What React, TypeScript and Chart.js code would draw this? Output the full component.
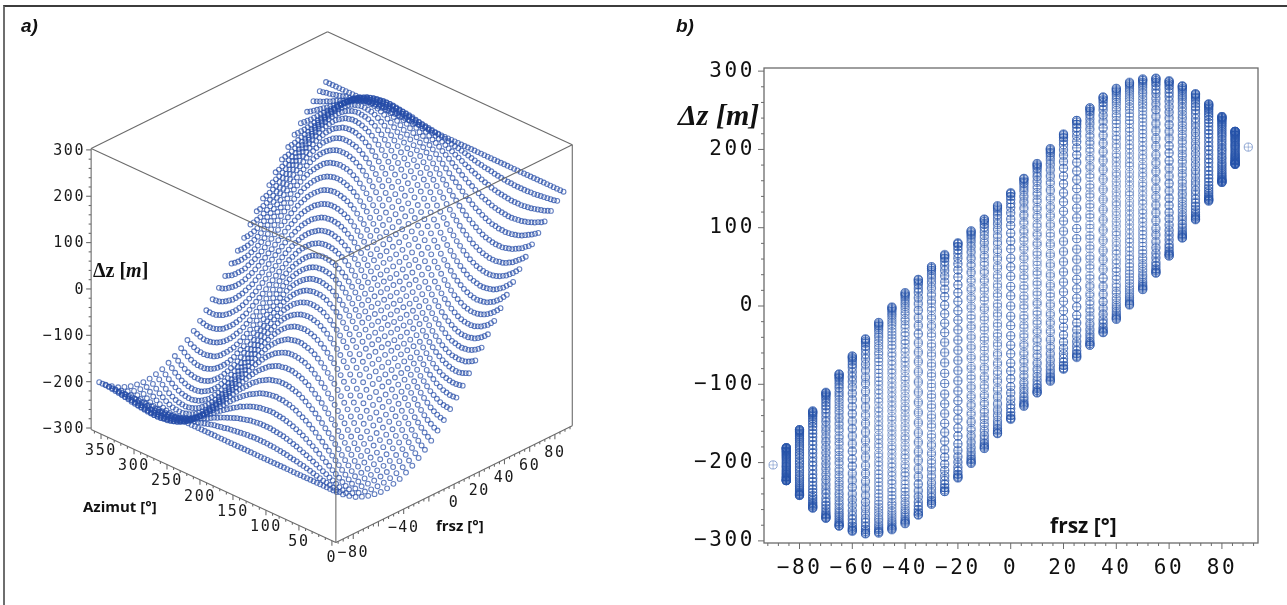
import React, { useEffect, useRef } from "react";
import { Chart, registerables } from "chart.js";

Chart.register(...registerables);

const frszValues = [-90,-85,-80,-75,-70,-65,-60,-55,-50,-45,-40,-35,-30,-25,-20,-15,-10,-5,0,5,10,15,20,25,30,35,40,45,50,55,60,65,70,75,80,85,90];
const azimutValues = [0,10,20,30,40,50,60,70,80,90,100,110,120,130,140,150,160,170,180,190,200,210,220,230,240,250,260,270,280,290,300,310,320,330,340,350];
const azimutOddValues = [5,15,25,35,45,55,65,75,85,95,105,115,125,135,145,155,165,175,185,195,205,215,225,235,245,255,265,275,285,295,305,315,325,335,345,355];

// dz at azimuth 0, 10, ... 350
const dzM90 = [-203,-203,-203,-203,-203,-203,-203,-203,-203,-203,-203,-203,-203,-203,-203,-203,-203,-203,-203,-203,-203,-203,-203,-203,-203,-203,-203,-203,-203,-203,-203,-203,-203,-203,-203,-203];
const dzM85 = [-215,-212,-208,-205,-201,-197,-193,-190,-188,-185,-183,-182,-181,-181,-182,-183,-185,-187,-190,-193,-196,-200,-204,-207,-211,-214,-217,-219,-221,-223,-223,-223,-223,-222,-220,-218];
const dzM80 = [-225,-219,-212,-205,-198,-190,-183,-177,-171,-166,-162,-160,-158,-158,-159,-161,-165,-169,-175,-181,-188,-195,-202,-210,-217,-223,-229,-234,-238,-240,-242,-242,-241,-239,-235,-231];
const dzM75 = [-234,-224,-215,-204,-193,-183,-172,-163,-154,-147,-141,-137,-135,-134,-136,-139,-144,-151,-159,-168,-178,-188,-199,-210,-220,-230,-238,-245,-251,-255,-258,-258,-256,-253,-248,-242];
const dzM70 = [-240,-229,-216,-202,-188,-174,-161,-148,-137,-128,-120,-114,-111,-110,-112,-116,-123,-131,-141,-153,-166,-180,-194,-207,-221,-233,-245,-254,-262,-267,-270,-271,-270,-266,-259,-251];
const dzM65 = [-245,-231,-216,-199,-183,-166,-149,-134,-120,-109,-99,-92,-88,-87,-89,-93,-101,-111,-123,-137,-152,-169,-186,-202,-219,-234,-248,-260,-269,-276,-280,-281,-280,-275,-267,-258];
const dzM60 = [-248,-232,-215,-196,-177,-157,-138,-120,-104,-91,-79,-71,-66,-64,-66,-70,-78,-90,-103,-119,-137,-156,-175,-195,-213,-231,-247,-261,-272,-281,-286,-288,-286,-281,-273,-262];
const dzM55 = [-250,-232,-213,-192,-171,-149,-128,-108,-90,-74,-61,-51,-45,-42,-43,-48,-56,-68,-83,-100,-120,-141,-162,-184,-205,-225,-243,-259,-272,-282,-288,-291,-290,-285,-276,-264];
const dzM50 = [-249,-230,-210,-188,-165,-141,-118,-96,-76,-59,-44,-32,-25,-21,-22,-26,-35,-47,-62,-81,-101,-123,-147,-170,-193,-215,-235,-253,-267,-279,-286,-290,-289,-285,-276,-264];
const dzM45 = [-246,-227,-206,-183,-159,-134,-110,-86,-64,-45,-29,-16,-7,-2,-2,-5,-13,-25,-41,-60,-81,-104,-128,-153,-178,-201,-223,-242,-258,-271,-280,-285,-285,-282,-274,-262];
const dzM40 = [-242,-223,-202,-178,-153,-128,-102,-77,-54,-34,-16,-1,9,15,17,14,7,-4,-19,-38,-59,-83,-108,-133,-159,-184,-207,-228,-245,-260,-270,-276,-278,-275,-268,-257];
const dzM35 = [-235,-217,-196,-173,-148,-122,-96,-70,-46,-24,-5,11,23,31,34,33,27,17,2,-16,-36,-60,-85,-111,-137,-163,-187,-209,-228,-244,-256,-264,-267,-266,-260,-250];
const dzM30 = [-227,-210,-190,-168,-143,-117,-90,-64,-39,-16,4,22,35,45,50,50,46,37,24,7,-13,-35,-60,-86,-113,-139,-164,-187,-207,-225,-238,-248,-253,-253,-249,-240];
const dzM25 = [-217,-202,-184,-162,-138,-113,-86,-60,-34,-10,12,30,45,57,63,66,64,57,46,31,12,-10,-34,-59,-86,-112,-137,-161,-183,-202,-217,-228,-235,-237,-235,-228];
const dzM20 = [-206,-193,-176,-156,-133,-109,-83,-57,-31,-6,17,37,54,67,76,80,80,76,67,54,37,17,-6,-30,-56,-82,-108,-133,-156,-176,-192,-206,-215,-219,-219,-215];
const dzM15 = [-193,-182,-167,-149,-128,-105,-80,-54,-28,-3,20,42,60,75,86,93,96,94,88,77,62,44,23,0,-25,-51,-77,-102,-125,-147,-165,-180,-191,-198,-201,-199];
const dzM10 = [-178,-170,-158,-142,-123,-101,-78,-52,-27,-2,23,45,65,82,96,105,110,111,108,100,87,72,52,31,7,-18,-44,-69,-93,-116,-136,-153,-166,-176,-181,-182];
const dzM5 = [-162,-157,-148,-134,-117,-97,-75,-51,-26,-1,24,48,69,88,104,116,124,128,127,122,112,99,82,62,40,16,-9,-35,-60,-83,-105,-124,-139,-151,-159,-163];
const dzP0 = [-145,-143,-136,-126,-111,-93,-73,-50,-25,0,25,50,73,93,111,126,136,143,145,143,136,126,111,93,73,50,25,0,-25,-50,-73,-93,-111,-126,-136,-143];
const dzP5 = [-127,-128,-124,-116,-104,-88,-69,-48,-24,1,26,51,75,97,117,134,148,157,162,163,159,151,139,124,105,83,60,35,9,-16,-40,-62,-82,-99,-112,-122];
const dzP10 = [-108,-111,-110,-105,-96,-82,-65,-45,-23,2,27,52,78,101,123,142,158,170,178,182,181,176,166,153,136,116,93,69,44,18,-7,-31,-52,-72,-87,-100];
const dzP15 = [-88,-94,-96,-93,-86,-75,-60,-42,-20,3,28,54,80,105,128,149,167,182,193,199,201,198,191,180,165,147,125,102,77,51,25,0,-23,-44,-62,-77];
const dzP20 = [-67,-76,-80,-80,-76,-67,-54,-37,-17,6,31,57,83,109,133,156,176,193,206,215,219,219,215,206,192,176,156,133,108,82,56,30,6,-17,-37,-54];
const dzP25 = [-46,-57,-64,-66,-63,-57,-45,-30,-12,10,34,60,86,113,138,162,184,202,217,228,235,237,235,228,217,202,183,161,137,112,86,59,34,10,-12,-31];
const dzP30 = [-24,-37,-46,-50,-50,-45,-35,-22,-4,16,39,64,90,117,143,168,190,210,227,240,249,253,253,248,238,225,207,187,164,139,113,86,60,35,13,-7];
const dzP35 = [-2,-17,-27,-33,-34,-31,-23,-11,5,24,46,70,96,122,148,173,196,217,235,250,260,266,267,264,256,244,228,209,187,163,137,111,85,60,36,16];
const dzP40 = [19,4,-7,-14,-17,-15,-9,1,16,34,54,77,102,128,153,178,202,223,242,257,268,275,278,276,270,260,245,228,207,184,159,133,108,83,59,38];
const dzP45 = [41,25,13,5,2,2,7,16,29,45,64,86,110,134,159,183,206,227,246,262,274,282,285,285,280,271,258,242,223,201,178,153,128,104,81,60];
const dzP50 = [62,47,35,26,22,21,25,32,44,59,76,96,118,141,165,188,210,230,249,264,276,285,289,290,286,279,267,253,235,215,193,170,147,123,101,81];
const dzP55 = [83,68,56,48,43,42,45,51,61,74,90,108,128,149,171,192,213,232,250,264,276,285,290,291,288,282,272,259,243,225,205,184,162,141,120,100];
const dzP60 = [103,90,78,70,66,64,66,71,79,91,104,120,138,157,177,196,215,232,248,262,273,281,286,288,286,281,272,261,247,231,213,195,175,156,137,119];
const dzP65 = [123,111,101,93,89,87,88,92,99,109,120,134,149,166,183,199,216,231,245,258,267,275,280,281,280,276,269,260,248,234,219,202,186,169,152,137];
const dzP70 = [141,131,123,116,112,110,111,114,120,128,137,148,161,174,188,202,216,229,240,251,259,266,270,271,270,267,262,254,245,233,221,207,194,180,166,153];
const dzP75 = [159,151,144,139,136,134,135,137,141,147,154,163,172,183,193,204,215,224,234,242,248,253,256,258,258,255,251,245,238,230,220,210,199,188,178,168];
const dzP80 = [175,169,165,161,159,158,158,160,162,166,171,177,183,190,198,205,212,219,225,231,235,239,241,242,242,240,238,234,229,223,217,210,202,195,188,181];
const dzP85 = [190,187,185,183,182,181,181,182,183,185,188,190,193,197,201,205,208,212,215,218,220,222,223,223,223,223,221,219,217,214,211,207,204,200,196,193];
const dzP90 = [203,203,203,203,203,203,203,203,203,203,203,203,203,203,203,203,203,203,203,203,203,203,203,203,203,203,203,203,203,203,203,203,203,203,203,203];

// dz at azimuth 5, 15, ... 355
const oddM90 = dzM90;
const oddM85 = [-213,-210,-206,-203,-199,-195,-192,-189,-186,-184,-182,-181,-181,-181,-182,-184,-186,-188,-191,-194,-198,-202,-205,-209,-212,-215,-218,-220,-222,-223,-223,-223,-222,-221,-219,-216];
const oddM80 = [-222,-216,-208,-201,-194,-187,-180,-174,-169,-164,-161,-159,-158,-158,-160,-163,-167,-172,-178,-184,-191,-199,-206,-213,-220,-226,-231,-236,-239,-241,-242,-241,-240,-237,-233,-228];
const oddM75 = [-229,-220,-209,-199,-188,-177,-167,-158,-150,-144,-139,-136,-134,-135,-137,-141,-147,-154,-163,-173,-183,-194,-204,-215,-225,-234,-242,-248,-253,-257,-258,-257,-255,-251,-245,-238];
const oddM70 = [-235,-222,-209,-195,-181,-168,-155,-143,-132,-124,-117,-113,-111,-111,-114,-119,-127,-136,-147,-159,-173,-187,-201,-214,-227,-239,-250,-258,-265,-269,-271,-271,-268,-263,-255,-246];
const oddM65 = [-239,-224,-208,-191,-174,-157,-142,-127,-114,-104,-95,-90,-87,-87,-91,-97,-105,-116,-130,-144,-160,-177,-194,-211,-227,-241,-254,-265,-273,-278,-281,-281,-278,-271,-263,-252];
const oddM60 = [-241,-224,-205,-186,-167,-148,-129,-112,-97,-85,-75,-68,-64,-64,-67,-74,-84,-96,-111,-128,-146,-165,-185,-204,-222,-239,-254,-267,-277,-284,-287,-287,-284,-278,-268,-255];
const oddM55 = [-241,-223,-203,-181,-160,-138,-118,-98,-81,-67,-55,-47,-43,-42,-45,-52,-62,-75,-92,-110,-130,-151,-173,-194,-215,-234,-251,-266,-277,-285,-290,-291,-288,-281,-271,-257];
const oddM50 = [-240,-220,-199,-176,-153,-130,-107,-86,-67,-51,-38,-28,-23,-21,-24,-30,-40,-54,-71,-91,-112,-135,-158,-181,-204,-225,-244,-260,-273,-283,-288,-290,-288,-281,-271,-257];
const oddM45 = [-237,-217,-195,-171,-146,-122,-98,-75,-54,-37,-22,-11,-4,-1,-3,-9,-19,-33,-50,-70,-92,-116,-141,-165,-189,-212,-233,-251,-265,-276,-283,-286,-284,-278,-268,-254];
const oddM40 = [-233,-213,-190,-166,-140,-115,-90,-66,-44,-24,-8,4,13,17,16,11,2,-11,-28,-48,-71,-95,-121,-146,-171,-195,-217,-237,-253,-265,-274,-278,-277,-272,-263,-250];
const oddM35 = [-227,-207,-185,-161,-135,-109,-83,-58,-35,-14,4,18,28,33,34,30,22,10,-6,-26,-48,-72,-98,-124,-150,-175,-198,-219,-237,-251,-260,-266,-267,-263,-255,-243];
const oddM30 = [-219,-201,-179,-155,-130,-104,-77,-52,-27,-6,13,29,40,48,50,48,42,31,16,-2,-24,-48,-73,-99,-126,-151,-176,-197,-216,-232,-244,-251,-253,-251,-245,-234];
const oddM25 = [-210,-193,-173,-150,-125,-99,-73,-47,-22,1,21,38,51,61,65,65,61,52,39,22,1,-22,-46,-72,-99,-125,-150,-172,-193,-210,-223,-232,-237,-237,-232,-223];
const oddM20 = [-200,-185,-166,-145,-121,-96,-70,-44,-18,6,27,46,61,72,79,81,79,72,61,46,27,6,-18,-43,-69,-95,-121,-144,-166,-184,-199,-211,-217,-220,-218,-211];
const oddM15 = [-188,-175,-159,-139,-117,-93,-67,-41,-16,9,31,51,68,81,90,95,96,91,83,70,54,34,12,-12,-38,-64,-89,-114,-136,-156,-173,-186,-195,-200,-201,-196];
const oddM10 = [-175,-165,-150,-133,-113,-90,-65,-40,-14,11,34,56,74,90,101,108,111,110,104,94,80,62,42,19,-5,-31,-57,-81,-105,-126,-145,-160,-172,-179,-182,-180];
const oddM5 = [-160,-153,-141,-126,-108,-87,-63,-39,-13,12,36,59,79,97,110,120,126,128,125,117,106,91,72,51,28,3,-22,-47,-72,-94,-115,-132,-146,-156,-162,-163];
const oddP0 = [-144,-140,-131,-119,-103,-83,-61,-38,-13,13,38,61,83,103,119,131,140,144,144,140,131,119,103,83,61,38,13,-13,-38,-61,-83,-103,-119,-131,-140,-144];
const oddP5 = [-128,-126,-120,-110,-97,-79,-59,-36,-12,13,39,63,87,108,126,141,153,160,163,162,156,146,132,115,94,72,47,22,-3,-28,-51,-72,-91,-106,-117,-125];
const oddP10 = [-110,-111,-108,-101,-90,-74,-56,-34,-11,14,40,65,90,113,133,150,165,175,180,182,179,172,160,145,126,105,81,57,31,5,-19,-42,-62,-80,-94,-104];
const oddP15 = [-91,-96,-95,-90,-81,-68,-51,-31,-9,16,41,67,93,117,139,159,175,188,196,201,200,195,186,173,156,136,114,89,64,38,12,-12,-34,-54,-70,-83];
const oddP20 = [-72,-79,-81,-79,-72,-61,-46,-27,-6,18,44,70,96,121,145,166,185,200,211,218,220,217,211,199,184,166,144,121,95,69,43,18,-6,-27,-46,-61];
const oddP25 = [-52,-61,-65,-65,-61,-51,-38,-21,-1,22,47,73,99,125,150,173,193,210,223,232,237,237,232,223,210,193,172,150,125,99,72,46,22,-1,-22,-39];
const oddP30 = [-31,-42,-48,-50,-48,-40,-29,-13,6,27,52,77,104,130,155,179,201,219,234,245,251,253,251,244,232,216,197,176,151,126,99,73,48,24,2,-16];
const oddP35 = [-10,-22,-30,-34,-33,-28,-18,-4,14,35,58,83,109,135,161,185,207,227,243,255,263,267,266,260,251,237,219,198,175,150,124,98,72,48,26,6];
const oddP40 = [11,-2,-11,-16,-17,-13,-4,8,24,44,66,90,115,140,166,190,213,233,250,263,272,277,278,274,265,253,237,217,195,171,146,121,95,71,48,28];
const oddP45 = [33,19,9,3,1,4,11,22,37,54,75,98,122,146,171,195,217,237,254,268,278,284,286,283,276,265,251,233,212,189,165,141,116,92,70,50];
const oddP50 = [54,40,30,24,21,23,28,38,51,67,86,107,130,153,176,199,220,240,257,271,281,288,290,288,283,273,260,244,225,204,181,158,135,112,91,71];
const oddP55 = [75,62,52,45,42,43,47,55,67,81,98,118,138,160,181,203,223,241,257,271,281,288,291,290,285,277,266,251,234,215,194,173,151,130,110,92];
const oddP60 = [96,84,74,67,64,64,68,75,85,97,112,129,148,167,186,205,224,241,255,268,278,284,287,287,284,277,267,254,239,222,204,185,165,146,128,111];
const oddP65 = [116,105,97,91,87,87,90,95,104,114,127,142,157,174,191,208,224,239,252,263,271,278,281,281,278,273,265,254,241,227,211,194,177,160,144,130];
const oddP70 = [136,127,119,114,111,111,113,117,124,132,143,155,168,181,195,209,222,235,246,255,263,268,271,271,269,265,258,250,239,227,214,201,187,173,159,147];
const oddP75 = [154,147,141,137,135,134,136,139,144,150,158,167,177,188,199,209,220,229,238,245,251,255,257,258,257,253,248,242,234,225,215,204,194,183,173,163];
const oddP80 = [172,167,163,160,158,158,159,161,164,169,174,180,187,194,201,208,216,222,228,233,237,240,241,242,241,239,236,231,226,220,213,206,199,191,184,178];
const oddP85 = [188,186,184,182,181,181,181,182,184,186,189,192,195,199,203,206,210,213,216,219,221,222,223,223,223,222,220,218,215,212,209,205,202,198,194,191];
const oddP90 = dzP90;

const dzRows = [dzM90,dzM85,dzM80,dzM75,dzM70,dzM65,dzM60,dzM55,dzM50,dzM45,dzM40,dzM35,dzM30,dzM25,dzM20,dzM15,dzM10,dzM5,dzP0,dzP5,dzP10,dzP15,dzP20,dzP25,dzP30,dzP35,dzP40,dzP45,dzP50,dzP55,dzP60,dzP65,dzP70,dzP75,dzP80,dzP85,dzP90];
const oddRows = [oddM90,oddM85,oddM80,oddM75,oddM70,oddM65,oddM60,oddM55,oddM50,oddM45,oddM40,oddM35,oddM30,oddM25,oddM20,oddM15,oddM10,oddM5,oddP0,oddP5,oddP10,oddP15,oddP20,oddP25,oddP30,oddP35,oddP40,oddP45,oddP50,oddP55,oddP60,oddP65,oddP70,oddP75,oddP80,oddP85,oddP90];

const dzTicks3d = [-300,-200,-100,0,100,200,300];
const azTicks3d = [0,50,100,150,200,250,300,350];
const frszTicks3d = [-80,-40,0,20,40,60,80];

const minus = (v: number) => (v < 0 ? "\u2212" + Math.abs(v) : String(v));

// Oblique 3D view of the box holding panel a: data units to view units.
const BOX = { azMin: -6, azMax: 365, fMin: -93.8, fMax: 93.8, zMin: -303, zMax: 303 };
const view = (az: number, f: number, dz: number) => ({
  x: 452 + 1.28 * f - 0.67 * az,
  y: 342.5 - 0.633 * f - 0.31 * az - 0.4715 * dz,
});

const LINE = "#6b6b6b";
const MONO = '"DejaVu Sans Mono"';
const BOLD = '"Open Sans", Lato, sans-serif';
const SERIF = '"Liberation Serif", serif';

const panelAPlugin = {
  id: "box3d",
  afterDraw(chart: any) {
    const { ctx, scales } = chart;
    const P = (az: number, f: number, dz: number) => {
      const v = view(az, f, dz);
      return { x: scales.x.getPixelForValue(v.x), y: scales.y.getPixelForValue(v.y) };
    };
    const seg = (a: any, b: any) => {
      ctx.beginPath();
      ctx.moveTo(a.x, a.y);
      ctx.lineTo(b.x, b.y);
      ctx.stroke();
    };
    const { azMin, azMax, fMin, fMax, zMin, zMax } = BOX;
    ctx.save();
    ctx.strokeStyle = LINE;
    ctx.lineWidth = 1.1;
    seg(P(azMax, fMin, zMax), P(azMax, fMax, zMax));
    seg(P(azMax, fMax, zMax), P(azMin, fMax, zMax));
    seg(P(azMax, fMin, zMax), P(azMin, fMin, zMax));
    seg(P(azMin, fMin, zMax), P(azMin, fMax, zMax));
    seg(P(azMax, fMin, zMax), P(azMax, fMin, zMin));
    seg(P(azMin, fMin, zMax), P(azMin, fMin, zMin));
    seg(P(azMin, fMax, zMax), P(azMin, fMax, zMin));
    seg(P(azMax, fMin, zMin), P(azMin, fMin, zMin));
    seg(P(azMin, fMin, zMin), P(azMin, fMax, zMin));

    for (let z = -300; z <= 300; z += 20) {
      const p = P(azMax, fMin, z);
      seg(p, { x: p.x - (z % 100 === 0 ? 5 : 2.5), y: p.y });
    }
    for (let a = 0; a <= 360; a += 10) {
      const p = P(a, fMin, zMin);
      seg(p, { x: p.x, y: p.y + (a % 50 === 0 ? 5 : 2.5) });
    }
    for (let f = -92; f <= 92; f += 4) {
      const p = P(azMin, f, zMin);
      seg(p, { x: p.x, y: p.y + (f % 20 === 0 ? 5 : 2.5) });
    }

    ctx.fillStyle = "#1a1a1a";
    ctx.font = `15px ${MONO}`;
    (ctx as any).letterSpacing = "1.6px";
    ctx.textBaseline = "middle";
    ctx.textAlign = "right";
    dzTicks3d.forEach((z) => {
      const p = P(azMax, fMin, z);
      ctx.fillText(minus(z), p.x - 6, p.y + 1);
    });
    ctx.textAlign = "center";
    azTicks3d.forEach((a) => {
      const p = P(a, fMin, zMin);
      ctx.fillText(minus(a), p.x, p.y + 17);
    });
    frszTicks3d.forEach((f) => {
      const p = P(azMin, f, zMin);
      ctx.fillText(minus(f), p.x, p.y + 19);
    });
    (ctx as any).letterSpacing = "0px";

    ctx.fillStyle = "#111";
    ctx.textAlign = "left";
    ctx.font = 'italic bold 19px "Liberation Sans"';
    ctx.fillText("a)", 21, 27);
    ctx.font = `bold 15px ${BOLD}`;
    ctx.fillText("Azimut [\u00b0]", 83, 508);
    ctx.fillText("frsz [\u00b0]", 436, 527);
    ctx.font = `bold 20px ${SERIF}`;
    ctx.fillText("\u0394z [", 93, 272);
    let x = 93 + ctx.measureText("\u0394z [").width;
    ctx.font = `italic bold 20px ${SERIF}`;
    ctx.fillText("m", x, 272);
    x += ctx.measureText("m").width;
    ctx.font = `bold 20px ${SERIF}`;
    ctx.fillText("]", x, 272);
    ctx.restore();
  },
};

const panelBPlugin = {
  id: "frame2d",
  beforeDraw(chart: any) {
    chart.ctx.letterSpacing = "2.6px";
  },
  afterDraw(chart: any) {
    const { ctx, scales, chartArea: a } = chart;
    ctx.save();
    (ctx as any).letterSpacing = "0px";
    ctx.strokeStyle = LINE;
    ctx.lineWidth = 1.3;
    ctx.strokeRect(a.left, a.top, a.right - a.left, a.bottom - a.top);
    ctx.lineWidth = 1;
    scales.x.ticks.forEach((t: any) => {
      const px = scales.x.getPixelForValue(t.value);
      ctx.beginPath();
      ctx.moveTo(px, a.bottom);
      ctx.lineTo(px, a.bottom + (t.value % 20 === 0 ? 6 : 3));
      ctx.stroke();
    });
    scales.y.ticks.forEach((t: any) => {
      const py = scales.y.getPixelForValue(t.value);
      ctx.beginPath();
      ctx.moveTo(a.left, py);
      ctx.lineTo(a.left - (t.value % 100 === 0 ? 6 : 3), py);
      ctx.stroke();
    });
    ctx.fillStyle = "#111";
    ctx.textBaseline = "middle";
    ctx.textAlign = "left";
    ctx.font = 'italic bold 19px "Liberation Sans"';
    ctx.fillText("b)", 11, 27);
    ctx.font = `bold 21px ${BOLD}`;
    ctx.fillText("frsz [\u00b0]", 385, 527);
    ctx.font = `italic bold 30px ${SERIF}`;
    ctx.fillText("\u0394z [m]", 13, 117);
    ctx.restore();
  },
};

export default function App() {
  const aRef = useRef<HTMLCanvasElement>(null);
  const bRef = useRef<HTMLCanvasElement>(null);

  useEffect(() => {
    const chartA = new Chart(aRef.current as HTMLCanvasElement, {
      type: "scatter",
      data: {
        datasets: dzRows.map((row, i) => ({
          label: `frsz ${frszValues[i]}`,
          data: [
            ...[...azimutValues, 360].map((az, j) => view(az, frszValues[i], row[j % 36])),
            ...azimutOddValues.map((az, j) => view(az, frszValues[i], oddRows[i][j])),
          ],
          pointRadius: 2.4,
          pointBorderWidth: 1.1,
          pointBackgroundColor: "rgba(0,0,0,0)",
          pointBorderColor: "rgba(38,76,168,0.72)",
        })),
      },
      options: {
        animation: false,
        responsive: false,
        events: [],
        layout: { padding: 0 },
        plugins: { legend: { display: false }, tooltip: { enabled: false } },
        scales: {
          x: { type: "linear", display: false, min: 0, max: 660 },
          y: { type: "linear", display: false, min: 0, max: 605, reverse: true },
        },
      },
      plugins: [panelAPlugin],
    } as any);

    const columns = dzRows.map((row, i) => {
      const all = [...row, ...oddRows[i]];
      const used = Math.abs(frszValues[i]) === 90 ? all.slice(0, 1) : all;
      return used.map((dz) => ({ x: frszValues[i], y: dz }));
    });
    const points = columns.flat();
    const tickFont = { family: "DejaVu Sans Mono", size: 21 };
    const chartB = new Chart(bRef.current as HTMLCanvasElement, {
      type: "scatter",
      data: {
        datasets: [
          {
            label: "circle",
            data: points,
            pointStyle: "circle",
            pointRadius: 4.1,
            pointBorderWidth: 0.9,
            pointBackgroundColor: "rgba(0,0,0,0)",
            pointBorderColor: "rgba(38,84,170,0.55)",
          },
          {
            label: "cross",
            data: points,
            pointStyle: "cross",
            pointRadius: 4.1,
            pointBorderWidth: 0.7,
            pointBorderColor: "rgba(38,84,170,0.5)",
          },
        ],
      },
      options: {
        animation: false,
        responsive: false,
        events: [],
        layout: { padding: { left: 0, top: 68, right: 29, bottom: 0 } },
        plugins: { legend: { display: false }, tooltip: { enabled: false } },
        scales: {
          x: {
            type: "linear",
            min: -93.45,
            max: 93.67,
            afterFit: (s: any) => { s.height = 62; },
            grid: { display: false, drawTicks: false },
            border: { display: false },
            ticks: {
              stepSize: 4,
              includeBounds: false,
              autoSkip: false,
              maxRotation: 0,
              padding: 13,
              color: "#111",
              font: tickFont,
              callback: (v: any) => (v % 20 === 0 ? minus(v) : ""),
            },
          },
          y: {
            type: "linear",
            min: -302.7,
            max: 304,
            afterFit: (s: any) => { s.width = 99; },
            grid: { display: false, drawTicks: false },
            border: { display: false },
            ticks: {
              stepSize: 20,
              includeBounds: false,
              autoSkip: false,
              padding: 9,
              color: "#111",
              font: tickFont,
              callback: (v: any) => (v % 100 === 0 ? minus(v) : ""),
            },
          },
        },
      },
      plugins: [panelBPlugin],
    } as any);

    return () => {
      chartA.destroy();
      chartB.destroy();
    };
  }, []);

  return (
    <div style={{ position: "absolute", left: 0, top: 0, width: 1287, height: 605, overflow: "hidden", background: "#fff" }}>
      <div style={{ position: "absolute", left: 3, top: 5, width: 1284, height: 600, borderTop: "2px solid #3c3c3c", borderLeft: "2px solid #6e6e6e", boxSizing: "border-box" }} />
      <canvas ref={aRef} width={660} height={605} style={{ position: "absolute", left: 0, top: 0, width: 660, height: 605 }} />
      <canvas ref={bRef} width={622} height={605} style={{ position: "absolute", left: 665, top: 0, width: 622, height: 605 }} />
    </div>
  );
}
